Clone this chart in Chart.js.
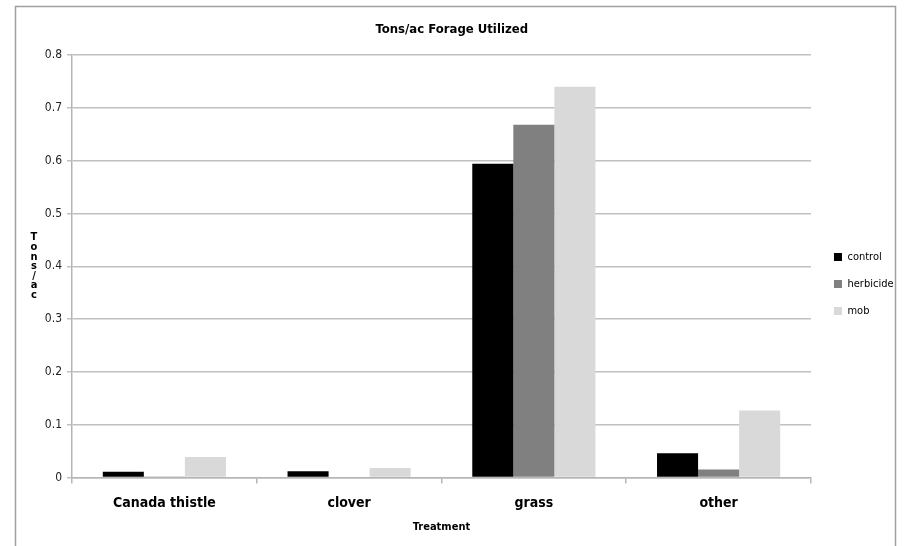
<!DOCTYPE html>
<html>
<head>
<meta charset="utf-8">
<script src="https://cdn.jsdelivr.net/npm/chart.js@4/dist/chart.umd.min.js"></script>
<style>
  body { margin: 0; background: #fff; }
  canvas { display: block; }
</style>
</head>
<body>
<canvas id="forageChart" width="905" height="546"></canvas>
<script>
const categories = ['Canada thistle', 'clover', 'grass', 'other'];
const seriesNames = ['control', 'herbicide', 'mob'];
const controlValues = [0.011, 0.012, 0.594, 0.046];
const herbicideValues = [0.002, 0, 0.668, 0.015];
const mobValues = [0.039, 0.018, 0.740, 0.127];
const yTitle = 'Tons/ac';

const FONT = "'Liberation Sans Narrow', 'DejaVu Sans Condensed', sans-serif";

// outer frame + stacked y axis title
const framePlugin = {
  id: 'frame',
  afterDraw(chart) {
    const ctx = chart.ctx;
    const area = chart.chartArea;
    ctx.save();
    ctx.strokeStyle = '#a0a0a0';
    ctx.lineWidth = 1.5;
    ctx.strokeRect(15.5, 6.5, 880, 600);

    ctx.fillStyle = '#000';
    ctx.font = 'bold 11px ' + FONT;
    ctx.textAlign = 'center';
    ctx.textBaseline = 'middle';
    const step = 9.6;
    const letters = yTitle.split('');
    const midY = (area.top + area.bottom) / 2;
    let y = midY - (letters.length - 1) * step / 2;
    letters.forEach(ch => {
      ctx.fillText(ch, 34, y);
      y += step;
    });
    ctx.restore();
  }
};

new Chart(document.getElementById('forageChart'), {
  type: 'bar',
  data: {
    labels: categories,
    datasets: [
      { label: seriesNames[0], data: controlValues, backgroundColor: '#000000' },
      { label: seriesNames[1], data: herbicideValues, backgroundColor: '#808080' },
      { label: seriesNames[2], data: mobValues, backgroundColor: '#d9d9d9' }
    ]
  },
  options: {
    responsive: false,
    animation: false,
    layout: { padding: { top: 22, right: 1.5, bottom: 0, left: 0 } },
    datasets: { bar: { categoryPercentage: 3 / 4.5, barPercentage: 1, borderWidth: 0 } },
    plugins: {
      tooltip: { enabled: false },
      title: {
        display: true,
        text: 'Tons/ac Forage Utilized',
        color: '#000',
        font: { family: FONT, size: 13, weight: 'bold' },
        padding: { top: 0, bottom: 17.4 }
      },
      legend: {
        position: 'right',
        labels: {
          color: '#000',
          font: { family: FONT, size: 11 },
          boxWidth: 8,
          boxHeight: 8,
          padding: 16
        }
      }
    },
    scales: {
      x: {
        grid: {
          offset: true,
          drawOnChartArea: false,
          tickLength: 6,
          color: '#b5b5b5',
          lineWidth: 1.5
        },
        border: { color: '#b5b5b5', width: 1.5 },
        ticks: {
          color: '#000',
          padding: 11,
          font: { family: FONT, size: 14, weight: 'bold' }
        },
        title: {
          display: true,
          text: 'Treatment',
          color: '#000',
          font: { family: FONT, size: 11, weight: 'bold' },
          padding: { top: 0, bottom: 12.4 }
        },
        afterFit(scale) { scale.height = 68.5; }
      },
      y: {
        min: 0,
        max: 0.8,
        ticks: {
          stepSize: 0.1,
          color: '#222',
          padding: 5,
          font: { family: FONT, size: 12 }
        },
        grid: { color: '#c0c0c0', lineWidth: 1.5, tickLength: 5 },
        border: { color: '#b5b5b5', width: 1.5 },
        afterFit(scale) { scale.width = 72; }
      },
      yRight: {
        type: 'linear',
        position: 'right',
        display: true,
        grid: { display: false },
        border: { display: false },
        ticks: { display: false },
        afterFit(scale) { scale.width = 7; }
      }
    }
  },
  plugins: [framePlugin]
});
</script>
</body>
</html>
